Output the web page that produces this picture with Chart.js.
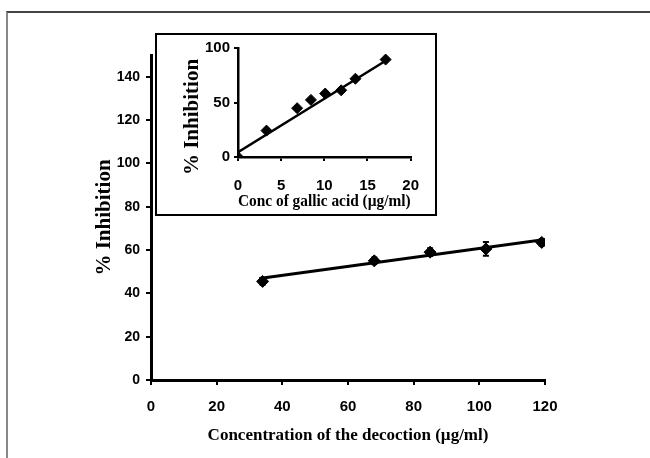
<!DOCTYPE html>
<html>
<head>
<meta charset="utf-8">
<script src="https://cdn.jsdelivr.net/npm/chart.js@4.4.1/dist/chart.umd.min.js"></script>
<style>
    body { margin: 0; background: #fff; }
    #wrap { position: relative; width: 650px; height: 458px; overflow: hidden; }
    #frame { position: absolute; left: 6px; top: 11px; right: 0; bottom: 0; border-top: 2px solid #444; border-left: 2px solid #888; }
    #inset { position: absolute; left: 155px; top: 33px; width: 278px; height: 179px; border: 2px solid #000; background: #fff; }
</style>
</head>
<body>
<div id="wrap">
    <div id="frame"></div>
    <canvas id="mainChart" width="650" height="458" style="position:absolute;left:0;top:0"></canvas>
    <div id="inset"><canvas id="insetChart" width="278" height="179"></canvas></div>
</div>
<script>
// main chart: decoction
const decoctionConc = [34, 68, 85, 102, 119];
const decoctionInhib = [45.5, 55, 59, 60.5, 63.5];
const decoctionErr = [1.5, 1.5, 1.8, 3.2, 1.5];
const decoctionFitX = [33, 120];
const decoctionFitY = [46.8, 64.8];
const mainXTicks = [0, 20, 40, 60, 80, 100, 120];
const mainYTicks = [0, 20, 40, 60, 80, 100, 120, 140];

// inset: gallic acid standard
const gallicConc = [0, 3.3, 6.85, 8.45, 10.1, 11.95, 13.6, 17.1];
const gallicInhib = [0, 24.2, 44.8, 52.4, 58.2, 61.2, 71.8, 89.4];
const gallicFitX = [0, 17.2];
const gallicFitY = [4.5, 88.8];
const insetXTicks = [0, 5, 10, 15, 20];
const insetYTicks = [0, 50, 100];

const tickFont = "'Liberation Sans Narrow', 'Liberation Sans', Arial, sans-serif";
const titleFont = "'Liberation Serif', 'Times New Roman', serif";

function pts(xs, ys) {
    return xs.map((x, i) => ({ x: x, y: ys[i] }));
}

function setTicks(list) {
    return function (scale) {
        scale.ticks = list.map(v => ({ value: v }));
    };
}

const errorBars = {
    id: "errorBars",
    afterDatasetsDraw(chart) {
        const ctx = chart.ctx;
        const xs = chart.scales.x, ys = chart.scales.y;
        ctx.save();
        ctx.strokeStyle = "#000";
        ctx.lineWidth = 2;
        decoctionConc.forEach((c, i) => {
            const px = xs.getPixelForValue(c);
            const top = ys.getPixelForValue(decoctionInhib[i] + decoctionErr[i]);
            const bot = ys.getPixelForValue(decoctionInhib[i] - decoctionErr[i]);
            ctx.beginPath();
            ctx.moveTo(px, top); ctx.lineTo(px, bot);
            ctx.moveTo(px - 3, top); ctx.lineTo(px + 3, top);
            ctx.moveTo(px - 3, bot); ctx.lineTo(px + 3, bot);
            ctx.stroke();
        });
        ctx.restore();
    }
};

new Chart(document.getElementById("mainChart"), {
    type: "scatter",
    data: {
        datasets: [
            {
                type: "line",
                data: pts(decoctionFitX, decoctionFitY),
                borderColor: "#000",
                borderWidth: 3,
                pointRadius: 0,
            },
            {
                data: pts(decoctionConc, decoctionInhib),
                pointStyle: "rectRot",
                pointRadius: 6,
                backgroundColor: "#000",
                borderColor: "#000",
            },
        ],
    },
    options: {
        responsive: false,
        animation: false,
        layout: { padding: { left: 87, right: 105, top: 55, bottom: 5 } },
        plugins: { legend: { display: false }, tooltip: { enabled: false } },
        scales: {
            x: {
                type: "linear",
                min: 0,
                max: 120,
                afterBuildTicks: setTicks(mainXTicks),
                afterFit(scale) { scale.height = 73; },
                border: { display: true, color: "#000", width: 3 },
                grid: { drawOnChartArea: false, color: "#000", lineWidth: 2, tickLength: 5 },
                ticks: { color: "#000", padding: 13, font: { family: tickFont, size: 15, weight: "bold" } },
                title: {
                    display: true,
                    text: "Concentration of the decoction (µg/ml)",
                    color: "#000",
                    padding: { top: 0, bottom: 7 },
                    font: { family: titleFont, size: 17, weight: "bold" },
                },
            },
            y: {
                min: 0,
                max: 150,
                afterBuildTicks: setTicks(mainYTicks),
                afterFit(scale) { scale.width = 64; },
                border: { display: true, color: "#000", width: 3 },
                grid: { drawOnChartArea: false, color: "#000", lineWidth: 2, tickLength: 5 },
                ticks: { color: "#000", padding: 6, font: { family: tickFont, size: 14, weight: "bold" } },
                title: {
                    display: true,
                    text: "% Inhibition",
                    color: "#000",
                    padding: { top: 5, bottom: 0 },
                    font: { family: titleFont, size: 21, weight: "bold" },
                },
            },
        },
    },
    plugins: [errorBars],
});

// inset y title sits lower than the axis middle, so draw it by hand
const insetYTitle = {
    id: "insetYTitle",
    afterDraw(chart) {
        const ctx = chart.ctx;
        ctx.save();
        ctx.translate(36, 82);
        ctx.rotate(-Math.PI / 2);
        ctx.font = "bold 21px " + titleFont;
        ctx.fillStyle = "#000";
        ctx.textAlign = "center";
        ctx.textBaseline = "middle";
        ctx.fillText("% Inhibition", 0, 0);
        ctx.restore();
    }
};

new Chart(document.getElementById("insetChart"), {
    type: "scatter",
    data: {
        datasets: [
            {
                type: "line",
                data: pts(gallicFitX, gallicFitY),
                borderColor: "#000",
                borderWidth: 2.5,
                pointRadius: 0,
            },
            {
                data: pts(gallicConc, gallicInhib),
                pointStyle: "rectRot",
                pointRadius: 5.5,
                backgroundColor: "#000",
                borderColor: "#000",
            },
        ],
    },
    options: {
        responsive: false,
        animation: false,
        layout: { padding: { left: 30, right: 17, top: 12, bottom: 0 } },
        plugins: { legend: { display: false }, tooltip: { enabled: false } },
        scales: {
            x: {
                type: "linear",
                min: 0,
                max: 20,
                afterBuildTicks: setTicks(insetXTicks),
                afterFit(scale) { scale.height = 57; },
                border: { display: true, color: "#000", width: 2.5 },
                grid: { drawOnChartArea: false, color: "#000", lineWidth: 2, tickLength: 4 },
                ticks: { color: "#000", padding: 16, font: { family: tickFont, size: 15, weight: "bold" } },
                title: {
                    display: true,
                    text: "Conc of gallic acid (µg/ml)",
                    color: "#000",
                    padding: { top: 0, bottom: 2 },
                    font: { family: titleFont, size: 17.5, weight: "bold" },
                },
            },
            y: {
                min: 0,
                max: 100,
                afterBuildTicks: setTicks(insetYTicks),
                afterFit(scale) { scale.width = 51; },
                border: { display: true, color: "#000", width: 2.5 },
                grid: { drawOnChartArea: false, color: "#000", lineWidth: 2, tickLength: 4 },
                ticks: { color: "#000", padding: 4, font: { family: tickFont, size: 15, weight: "bold" } },
            },
        },
    },
    plugins: [insetYTitle],
});
</script>
</body>
</html>
